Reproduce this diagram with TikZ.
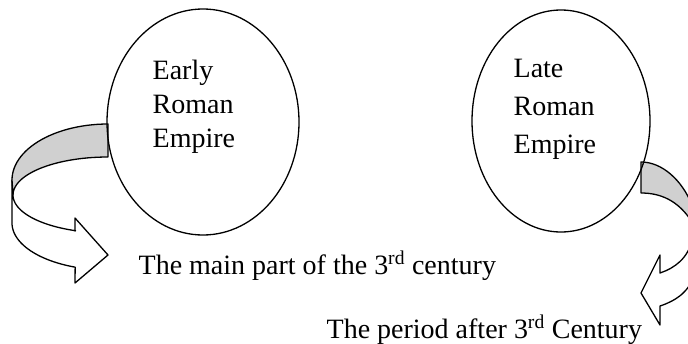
\documentclass[tikz,border=0pt]{standalone}
\usepackage{fontspec}
\setmainfont{Liberation Serif}
\usetikzlibrary{shapes.geometric}
\definecolor{facegray}{RGB}{208,208,208}
\begin{document}
\begin{tikzpicture}[x=1pt,y=-1pt, line width=1.3pt, line join=round,
  era/.style={draw, ellipse, inner sep=0pt},
  lbl/.style={anchor=base west, inner sep=0pt, font=\fontsize{28}{34}\selectfont},
  face/.style={draw, fill=facegray},
  band/.style={draw, fill=white}]
\useasboundingbox (0,0) rectangle (688,343);
\clip (0,0) rectangle (688,343);

% curled arrow leaving the first era
\draw[band] (12,180) -- (12,223)
  -- plot[domain=180:110, samples=30] ({108+96*cos(\x)},{223+47*sin(\x)})
  -- (75,283) -- (108,255) -- (75,218) -- (75,231)
  -- plot[domain=110:180, samples=30] ({108+95*cos(\x)},{195+38*sin(\x)}) -- cycle;
\draw[face] plot[domain=270:180, samples=30] ({108+96*cos(\x)},{180+56*sin(\x)})
  -- plot[domain=180:270, samples=30] ({108+95*cos(\x)},{195+38*sin(\x)}) -- cycle;

% curled arrow leaving the second era
\draw[band] (692,240) .. controls (688,258) and (675,268) .. (660,273)
  -- (660,255) -- (641,293) -- (660,325) -- (660,306)
  .. controls (678,300) and (690,290) .. (694,275) -- cycle;
\draw[face] (641,162) .. controls (662,162) and (682,180) .. (692,205)
  -- (692,222) .. controls (678,200) and (660,193) .. (641,193) -- cycle;

% the two eras
\node[era, minimum width=192pt, minimum height=226pt] (early) at (203,122) {};
\node[era, minimum width=178pt, minimum height=222pt] (late) at (561,121) {};

\node[lbl] (e1) at (152,79) {Early};
\node[lbl] (e2) at (152,113) {Roman};
\node[lbl] (e3) at (152,147) {Empire};
\node[lbl] (l1) at (513,77) {Late};
\node[lbl] (l2) at (513,115) {Roman};
\node[lbl] (l3) at (513,153) {Empire};

\node[lbl] (t1) at (138,274) {The main part of the 3\textsuperscript{rd} century};
\node[lbl] (t2) at (326,338) {The period after 3\textsuperscript{rd} Century};
\end{tikzpicture}
\end{document}
